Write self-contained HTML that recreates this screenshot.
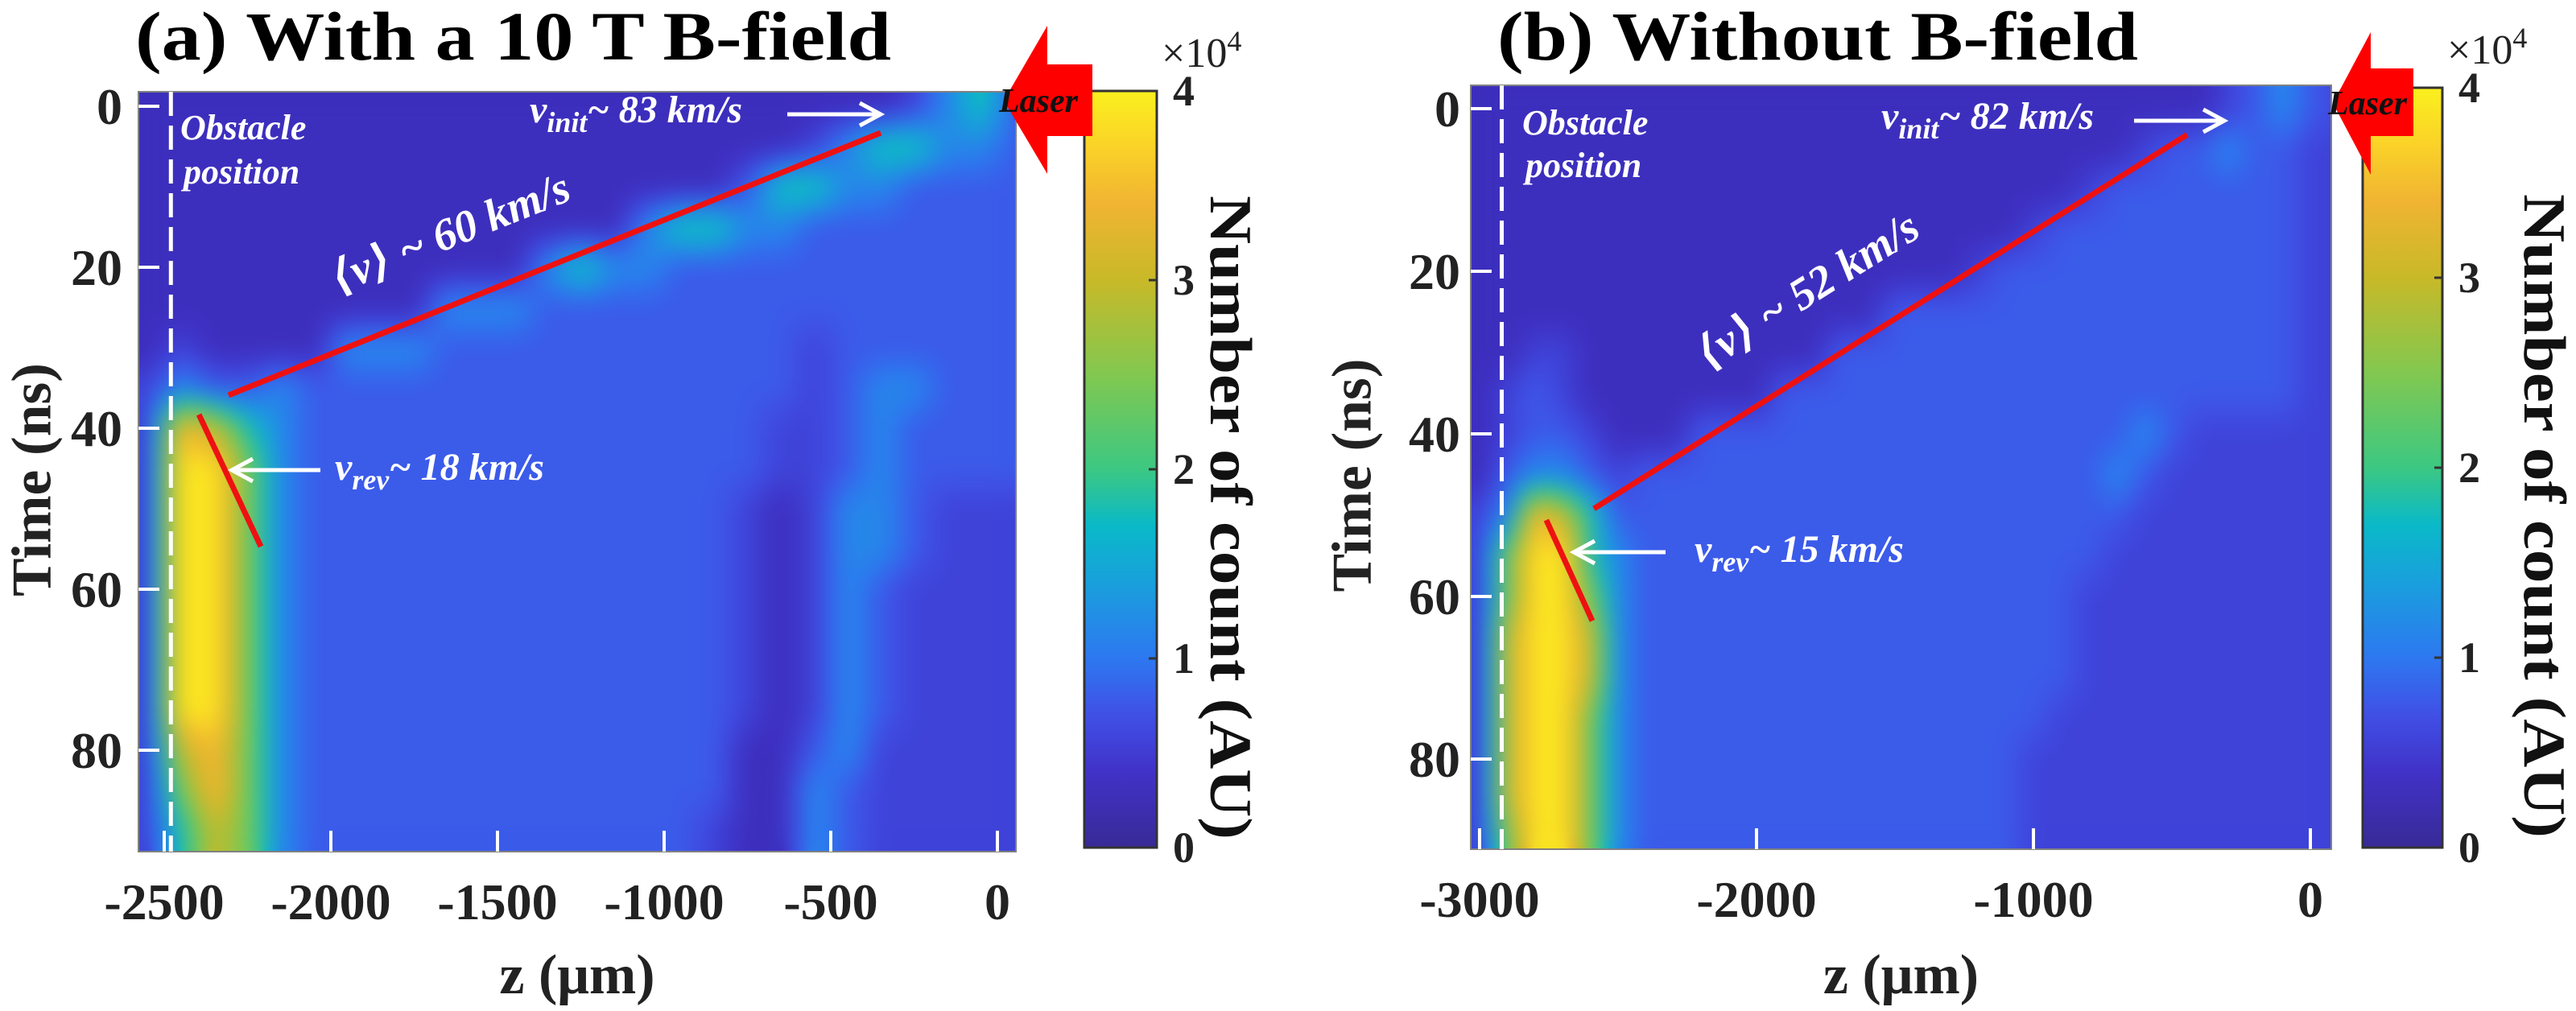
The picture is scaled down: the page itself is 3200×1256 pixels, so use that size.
<!DOCTYPE html>
<html><head><meta charset="utf-8">
<style>
html,body{margin:0;padding:0;background:#fff;}
#root{position:relative;width:3200px;height:1256px;overflow:hidden;background:#fff;}
canvas{position:absolute;}
svg{position:absolute;left:0;top:0;}
</style></head><body>
<div id="root">
<canvas id="heatA" style="left:172px;top:114px" width="1090" height="944"></canvas>
<canvas id="heatB" style="left:1827px;top:106px" width="1069" height="949"></canvas>
<svg id="ov" width="3200" height="1256">
<defs>
<linearGradient id="cbgrad" x1="0" y1="1" x2="0" y2="0">
<stop offset="0" stop-color="rgb(56,42,150)"/>
<stop offset="0.1" stop-color="rgb(65,50,200)"/>
<stop offset="0.175" stop-color="rgb(64,80,230)"/>
<stop offset="0.25" stop-color="rgb(45,120,240)"/>
<stop offset="0.35" stop-color="rgb(25,160,220)"/>
<stop offset="0.425" stop-color="rgb(10,185,200)"/>
<stop offset="0.5" stop-color="rgb(60,200,130)"/>
<stop offset="0.625" stop-color="rgb(130,200,80)"/>
<stop offset="0.75" stop-color="rgb(200,185,40)"/>
<stop offset="0.85" stop-color="rgb(240,180,50)"/>
<stop offset="0.925" stop-color="rgb(250,210,40)"/>
<stop offset="1" stop-color="rgb(250,240,30)"/>
</linearGradient>
</defs>
<g id="gA"></g>
<g id="gB"></g>
</svg>
</div>
<script>
// value lookup for digits in grids (x10^4 counts)
const digitValues = [0,0.35,0.58,0.78,1.15,1.8,2.4,3.0,3.5,3.9];
const timeRows = [0,5,10,15,20,25,30,35,40,45,50,55,60,65,70,75,80,85,90];
const zColsA = [-2550,-2450,-2350,-2250,-2150,-2050,-1950,-1850,-1750,-1650,-1550,-1450,-1350,-1250,-1150,-1050,-950,-850,-750,-650,-550,-450,-350,-250,-150,-50,50];
const gridA = [
"111111111111111111111112453",
"111111111111111111112455443",
"111111111111111111355443333",
"111111111111111455443333333",
"111111111111454433333333333",
"111111111444333333333333333",
"121111444333333333332333333",
"243343333333333333332344333",
"28754"+"33333333333333"+"22"+"3"+"4"+"3"+"333",
"29964"+"33333333333333"+"22"+"3"+"4"+"3"+"333",
"29964"+"3333333333333"+"212443"+"222",
"29964"+"3333333333333"+"212443"+"222",
"29964"+"3333333333333"+"212432"+"222",
"29964"+"3333333333333"+"212432"+"222",
"29964"+"3333333333333"+"212432"+"222",
"29964"+"3333333333333"+"212432"+"222",
"27864"+"3333333333333"+"11342"+"2222",
"26864"+"3333333333333"+"11432"+"2222",
"25764"+"333333333333"+"211432"+"2222"
];
const zColsB = [-3000,-2900,-2800,-2700,-2600,-2500,-2400,-2300,-2200,-2100,-2000,-1900,-1800,-1700,-1600,-1500,-1400,-1300,-1200,-1100,-1000,-900,-800,-700,-600,-500,-400,-300,-200,-100,0,100];
const gridB = [
"111111111111111111111111111"+"23432",
"111111111111111111111111"+"23343322",
"1111111111111111111111"+"2"+"3333333"+"22",
"11111111111111111111"+"2"+"333333333"+"22",
"111111111111111111"+"2"+"33333333333"+"22",
"111111111111111"+"333333333333333"+"22",
"1122"+"111111111"+"33333333333333333"+"22",
"1232"+"1111111"+"3333333333333333333"+"22",
"12332"+"111"+"3333333333333333"+"4"+"3"+"2222"+"22",
"134432"+"33333333333333333"+"4"+"3"+"2222222",
"248753"+"33333333333333333"+"3"+"22222222",
"269954"+"33333333333333333"+"222222222",
"269964"+"3333333333333333"+"2222222222",
"279974"+"3333333333333333"+"2222222222",
"279974"+"3333333333333333"+"2222222222",
"279964"+"333333333333333"+"22222222222",
"279964"+"33333333333333"+"222222222222",
"279964"+"33333333333333"+"222222222222",
"269964"+"33333333333333"+"222222222222"
];
const xTicksA = [-2500,-2000,-1500,-1000,-500,0];
const xTicksB = [-3000,-2000,-1000,0];
const yTicks = [0,20,40,60,80];
const cbTicks = [0,1,2,3,4];
// annotation line endpoints (z in um, t in ns)
const avgLineA = [[-2307,35.9],[-350,3.3]];
const revLineA = [[-2396,38.3],[-2210,54.7]];
const avgLineB = [[-2587,49.2],[-445,3.2]];
const revLineB = [[-2759,50.6],[-2593,63.0]];
const obstacleA = -2480, obstacleB = -2920;

const cmapStops = [[0,[56,42,150]],[0.4,[62,48,195]],[0.7,[64,80,230]],[1.0,[45,120,240]],[1.4,[25,160,220]],[1.7,[10,185,200]],[2.0,[60,200,130]],[2.5,[130,200,80]],[3.0,[200,185,40]],[3.4,[240,180,50]],[3.7,[250,210,40]],[4.0,[250,240,30]]];
function cmap(v){
  if(v<=0) return cmapStops[0][1];
  for(let i=1;i<cmapStops.length;i++){
    if(v<=cmapStops[i][0]){
      const a=cmapStops[i-1],b=cmapStops[i],f=(v-a[0])/(b[0]-a[0]);
      return [a[1][0]+(b[1][0]-a[1][0])*f,a[1][1]+(b[1][1]-a[1][1])*f,a[1][2]+(b[1][2]-a[1][2])*f];
    }
  }
  return cmapStops[cmapStops.length-1][1];
}
const NS='http://www.w3.org/2000/svg';
const FONT='"Liberation Serif", "DejaVu Serif", serif';
function mk(parent,tag,attrs,txt){
  const e=document.createElementNS(NS,tag);
  if(tag==='text') e.setAttribute('font-family',FONT);
  for(const k in attrs) e.setAttribute(k,attrs[k]);
  if(txt!==undefined) e.textContent=txt;
  parent.appendChild(e); return e;
}
function drawHeat(cv,left,top,grid,zCols,xInv,yInv){
  const ctx=cv.getContext('2d');const W=cv.width,H=cv.height;
  const img=ctx.createImageData(W,H);const d=img.data;
  const nr=grid.length,nc=zCols.length,dz=zCols[1]-zCols[0],dt=timeRows[1]-timeRows[0];
  const val=(i,j)=>digitValues[+grid[i][j]]||0;
  for(let py=0;py<H;py++){
    const t=yInv(top+py);let fi=(t-timeRows[0])/dt;fi=Math.max(0,Math.min(nr-1.0001,fi));
    const i0=Math.floor(fi),fy=fi-i0;
    for(let px=0;px<W;px++){
      const z=xInv(left+px);let fj=(z-zCols[0])/dz;fj=Math.max(0,Math.min(nc-1.0001,fj));
      const j0=Math.floor(fj),fx=fj-j0;
      const v=(val(i0,j0)*(1-fx)+val(i0,j0+1)*fx)*(1-fy)+(val(i0+1,j0)*(1-fx)+val(i0+1,j0+1)*fx)*fy;
      const c=cmap(v);const k=(py*W+px)*4;
      d[k]=c[0];d[k+1]=c[1];d[k+2]=c[2];d[k+3]=255;
    }
  }
  ctx.putImageData(img,0,0);
  try{ctx.filter='blur(14px)';ctx.drawImage(cv,0,0);ctx.filter='none';}catch(e){}
}
function panel(g,cfg){
  const {xs,ys,L,T,R,B,grid,zCols,cv,xTicks,cb,title,titleX,titleW,ylabX,tickRight,lines,obst,avgText,init,rev,obsText,laser}=cfg;
  drawHeat(cv,L,T,grid,zCols,px=>(px-xs(0))/(xs(1)-xs(0)),py=>(py-ys(0))/(ys(1)-ys(0)));
  let e=mk(g,'rect',{x:L,y:T,width:R-L,height:B-T,fill:'none',stroke:'#808080','stroke-width':2});
  
  xTicks.forEach(v=>{
    let l=mk(g,'line',{x1:xs(v),x2:xs(v),y1:B,y2:B-26,stroke:'#fff','stroke-width':4});
    
    let t=mk(g,'text',{x:xs(v),y:B+84,'text-anchor':'middle','font-size':64,'font-weight':'bold',fill:'#222'},String(v));
    
  });
  yTicks.forEach(v=>{
    let l=mk(g,'line',{x1:L,x2:L+26,y1:ys(v),y2:ys(v),stroke:'#fff','stroke-width':4});
    
    let t=mk(g,'text',{x:tickRight,y:ys(v)+22,'text-anchor':'end','font-size':64,'font-weight':'bold',fill:'#222'},String(v));
    
  });
  let ob=mk(g,'line',{x1:xs(obst),x2:xs(obst),y1:T,y2:B,stroke:'#fff','stroke-width':5,'stroke-dasharray':'30 12'});
  
  lines.forEach(ln=>{
    let l=mk(g,'line',{x1:xs(ln[0][0]),y1:ys(ln[0][1]),x2:xs(ln[1][0]),y2:ys(ln[1][1]),stroke:'#ee1111','stroke-width':7});
    
  });
  const a0=lines[0][0],a1=lines[0][1];
  const ang=Math.atan2(ys(a1[1])-ys(a0[1]),xs(a1[0])-xs(a0[0]))*180/Math.PI;
  let at=mk(g,'text',{x:avgText[0],y:avgText[1],'text-anchor':'middle','font-size':56,'font-weight':'bold','font-style':'italic',fill:'#fff',transform:`rotate(${ang} ${avgText[0]} ${avgText[1]})`},'⟨v⟩ ~ '+avgText[2]+' km/s');
  
  function vtext(x,y,sub,rest,name){
    const t=mk(g,'text',{x:x,y:y,'font-size':48,'font-weight':'bold','font-style':'italic',fill:'#fff'});
    mk(t,'tspan',{},'v');mk(t,'tspan',{dy:12,'font-size':36},sub);mk(t,'tspan',{dy:-12},rest);
    
  }
  function arrow(x1,x2,y,name){
    const dir=x2>x1?1:-1;
    let l=mk(g,'line',{x1:x1,y1:y,x2:x2-dir*4,y2:y,stroke:'#fff','stroke-width':5});
    
    let p=mk(g,'polyline',{points:`${x2-dir*26},${y-14} ${x2},${y} ${x2-dir*26},${y+14}`,fill:'none',stroke:'#fff','stroke-width':5});
    
  }
  vtext(init[0],init[1],'init','~ '+init[2]+' km/s','v-init-label');
  arrow(init[3],init[4],init[1]-10,'v-init-arrow');
  vtext(rev[0],rev[1],'rev','~ '+rev[2]+' km/s','v-rev-label');
  arrow(rev[3],rev[4],rev[1]-12,'v-rev-arrow');
  let o1=mk(g,'text',{x:obsText[0],y:obsText[1],'font-size':44,'font-weight':'bold','font-style':'italic',fill:'#fff'},'Obstacle');
  
  let o2=mk(g,'text',{x:obsText[0]+4,y:obsText[2],'font-size':44,'font-weight':'bold','font-style':'italic',fill:'#fff'},'position');
  
  const cbScale=v=>cb.B-(cb.B-cb.T)*v/4;
  let cr=mk(g,'rect',{x:cb.L,y:cb.T,width:cb.R-cb.L,height:cb.B-cb.T,fill:'url(#cbgrad)',stroke:'#333','stroke-width':3});
  
  cbTicks.forEach(v=>{
    let l=mk(g,'line',{x1:cb.R-10,x2:cb.R,y1:cbScale(v),y2:cbScale(v),stroke:'#333','stroke-width':3});
    
    let t=mk(g,'text',{x:cb.R+20,y:cbScale(v)+18,'font-size':54,'font-weight':'bold',fill:'#222'},String(v));
    
  });
  let ex=mk(g,'text',{x:cb.R+6,y:cb.T-30,'font-size':52,fill:'#222'});
  mk(ex,'tspan',{},'×10');mk(ex,'tspan',{dy:-20,'font-size':36},'4');
  
  const cm=(cb.T+cb.B)/2+60;
  let cl=mk(g,'text',{x:cb.lab,y:cm,'text-anchor':'middle','font-size':74,'font-weight':'bold',fill:'#111',transform:`rotate(90 ${cb.lab} ${cm})`,'dominant-baseline':'central',textLength:800,lengthAdjust:'spacingAndGlyphs'},'Number of count (AU)');
  
  const [tx,ty,hb,ht,hbt,st,sb,sr]=laser;
  let la=mk(g,'polygon',{points:`${tx},${ty} ${hb},${ht} ${hb},${st} ${sr},${st} ${sr},${sb} ${hb},${sb} ${hb},${hbt}`,fill:'#ff0000'});
  
  let lt=mk(g,'text',{x:tx-6,y:ty+14,'font-size':42,'font-weight':'bold','font-style':'italic',fill:'#111'},'Laser');
  
  let tt=mk(g,'text',{x:titleX,y:74,'font-size':86,'font-weight':'bold',fill:'#000',textLength:titleW,lengthAdjust:'spacingAndGlyphs'});
  tt.textContent=title[0]+'  '+title[1];
  tt.setAttribute('xml:space','preserve');
  
  let xl=mk(g,'text',{x:(L+R)/2,y:1234,'text-anchor':'middle','font-size':70,'font-weight':'bold',fill:'#222'},'z (μm)');
  
  const yc=(T+B)/2+10;
  let yl=mk(g,'text',{x:ylabX,y:yc,'text-anchor':'middle','font-size':70,'font-weight':'bold',fill:'#222',transform:`rotate(-90 ${ylabX} ${yc})`,'dominant-baseline':'central',textLength:290,lengthAdjust:'spacingAndGlyphs'},'Time (ns)');
  
}
panel(document.getElementById('gA'),{
  xs:z=>1239+0.414*z, ys:t=>132+10*t, L:172,T:114,R:1262,B:1058,
  grid:gridA,zCols:zColsA,cv:document.getElementById('heatA'),xTicks:xTicksA,
  cb:{L:1347,R:1437,T:113,B:1053,lab:1528},
  title:['(a)','With a 10 T B-field'],titleX:168,titleW:939,ylabX:40,tickRight:152,
  lines:[avgLineA,revLineA],obst:obstacleA,
  avgText:[566,306,'60'],init:[658,152,'83',978,1094],rev:[416,596,'18',398,288],
  obsText:[224,173,228],
  laser:[1247,125,1301,32,216,80,169,1357]
});
panel(document.getElementById('gB'),{
  xs:z=>2870+0.344*z, ys:t=>135+10.1*t, L:1827,T:106,R:2896,B:1055,
  grid:gridB,zCols:zColsB,cv:document.getElementById('heatB'),xTicks:xTicksB,
  cb:{L:2935,R:3034,T:109,B:1053,lab:3160},
  title:['(b)','Without B-field'],titleX:1860,titleW:796,ylabX:1680,tickRight:1814,
  lines:[avgLineB,revLineB],obst:obstacleB,
  avgText:[2255,376,'52'],init:[2337,160,'82',2651,2763],rev:[2105,698,'15',2069,1955],
  obsText:[1891,167,220],
  laser:[2898,128,2945,40,217,85,169,2998]
});
</script>
</body></html>
